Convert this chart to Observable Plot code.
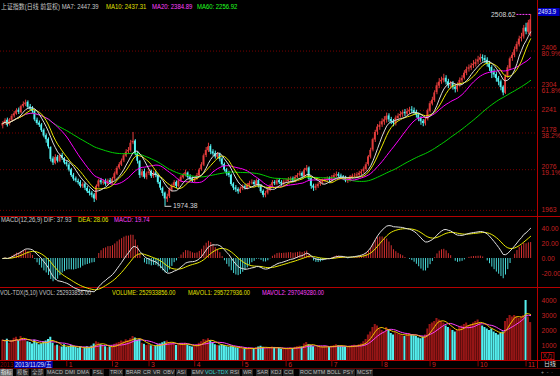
<!DOCTYPE html>
<html><head><meta charset="utf-8">
<script src="https://cdn.jsdelivr.net/npm/d3@7"></script>
<script src="https://cdn.jsdelivr.net/npm/@observablehq/plot@0.6"></script>
<style>
html,body{margin:0;padding:0;background:#000;}
#wrap{position:relative;width:560px;height:376px;overflow:hidden;background:#000;font-family:"Liberation Sans","Noto Sans CJK SC",sans-serif;font-size:6.6px;line-height:1;}
.t{position:absolute;white-space:nowrap;line-height:8px;transform:scaleX(0.9);transform-origin:left center;}
.pn{position:absolute;left:0;}
.hl{position:absolute;left:0;width:560px;height:1px;background:#b40000;}
.vl{position:absolute;width:1px;background:#b40000;}
.tab{position:absolute;top:369px;height:7px;line-height:7px;padding:0 1px;background:#262626;color:#bdbdbd;font-size:5.4px;white-space:nowrap;}
</style></head><body><div id="wrap">
<div class="t" style="left:1px;top:3px;color:#c8c8c8">上证指数(日线 前复权) MA7: 2447.39</div>
<div class="t" style="left:106px;top:3px;color:#e0e000">MA10: 2437.31</div>
<div class="t" style="left:152px;top:3px;color:#ff40ff">MA20: 2384.89</div>
<div class="t" style="left:197px;top:3px;color:#20ff20">MA60: 2256.92</div>
<div class="t" style="left:1px;top:216px;color:#c8c8c8">MACD(12,26,9) DIF: 37.93</div>
<div class="t" style="left:78px;top:216px;color:#e0e000">DEA: 28.06</div>
<div class="t" style="left:114px;top:216px;color:#ff40ff">MACD: 19.74</div>
<div class="t" style="left:0px;top:289px;color:#c8c8c8;transform:scaleX(0.82)">VOL-TDX(5,10) VVOL: 252933856.00</div>
<div class="t" style="left:112px;top:289px;color:#e0e000;transform:scaleX(0.86)">VOLUME: 252933856.00</div>
<div class="t" style="left:188px;top:289px;color:#e0e000;transform:scaleX(0.86)">MAVOL1: 295727936.00</div>
<div class="t" style="left:262px;top:289px;color:#ff40ff;transform:scaleX(0.86)">MAVOL2: 297049280.00</div>
<div class="t" style="left:538px;top:8px;width:24px;height:8px;background:#0000c0;color:#e0e8ff;">2493.9</div>
<div class="t" style="left:0px;top:361px;color:#900000">2013</div>
<div class="t" style="left:14px;top:361px;height:7px;line-height:7px;padding:0 1px;background:#0000b0;color:#d8e0ff">2013/11/29/五</div>
<div class="t" style="left:541px;top:352px;height:6px;line-height:6px;color:#c02020;border:1px solid #b40000;padding:0 1px">X万</div>
<div class="t" style="left:544px;top:360px;line-height:7px;color:#e0e0e0">日线</div>
<div class="t" style="left:541px;top:369px;line-height:7px;color:#a0a0a0;font-size:5.6px">+ &nbsp;- &nbsp;·</div>
<div class="hl" style="top:216px"></div>
<div class="hl" style="top:287px"></div>
<div class="hl" style="top:360px"></div>
<div class="hl" style="top:368px;background:#600000"></div>
<div class="vl" style="left:537px;top:0;height:368px"></div>
</div>
<script>
// ---- data (Shanghai Composite, daily, ~Nov 2013 - Nov 2014) ----
const opens=[2198,2206,2214,2202,2214,2226,2231,2242,2235,2253,2257,2264,2251,2246,2239,2214,2206,2201,2186,2171,2161,2138,2106,2094,2111,2099,2116,2107,2096,2089,2076,2061,2051,2044,2041,2029,2036,2024,2016,2011,2006,1994,2029,2046,2039,2043,2035,2046,2039,2051,2064,2081,2089,2101,2114,2126,2129,2151,2156,2121,2099,2059,2071,2054,2066,2071,2057,2067,2061,2041,2024,2011,1994,2001,2019,2031,2041,2029,2046,2054,2061,2067,2056,2051,2045,2051,2059,2076,2089,2116,2129,2141,2126,2121,2111,2119,2106,2091,2076,2066,2061,2036,2026,2021,2014,2023,2029,2024,2031,2039,2041,2034,2046,2031,2016,2004,2011,2019,2031,2041,2036,2046,2041,2035,2043,2043,2047,2051,2044,2054,2061,2066,2057,2074,2081,2051,2031,2024,2029,2036,2039,2044,2047,2051,2045,2054,2059,2063,2059,2056,2053,2044,2047,2055,2059,2059,2061,2065,2071,2077,2091,2111,2131,2159,2181,2194,2201,2209,2214,2226,2216,2211,2204,2219,2226,2229,2236,2231,2237,2243,2241,2236,2229,2219,2211,2204,2216,2239,2259,2269,2291,2309,2321,2324,2331,2321,2309,2316,2306,2299,2311,2324,2331,2344,2356,2359,2366,2369,2376,2381,2389,2386,2381,2371,2361,2346,2341,2331,2321,2306,2289,2336,2359,2386,2394,2411,2424,2441,2446,2471,2459,2455];
const highs=[2210,2218,2220,2219,2230,2238,2246,2248,2256,2265,2270,2268,2258,2252,2242,2220,2212,2205,2190,2176,2165,2140,2112,2118,2116,2120,2122,2110,2100,2094,2080,2066,2056,2050,2046,2040,2040,2030,2022,2016,2010,2034,2050,2052,2048,2050,2050,2052,2055,2070,2085,2096,2106,2120,2132,2138,2158,2180,2160,2126,2102,2076,2078,2070,2078,2075,2072,2072,2064,2046,2028,2014,2008,2025,2036,2046,2045,2050,2060,2066,2075,2070,2062,2056,2056,2066,2080,2096,2120,2138,2150,2146,2132,2128,2124,2122,2110,2095,2080,2072,2064,2040,2032,2026,2028,2034,2034,2038,2044,2048,2046,2050,2050,2035,2020,2016,2026,2035,2046,2046,2050,2052,2046,2048,2050,2054,2056,2056,2060,2066,2072,2070,2080,2088,2084,2055,2036,2036,2040,2046,2050,2054,2056,2056,2060,2066,2070,2068,2064,2060,2058,2054,2060,2064,2066,2068,2072,2076,2084,2096,2116,2136,2164,2186,2202,2210,2218,2224,2234,2232,2222,2216,2226,2232,2238,2242,2244,2246,2250,2252,2248,2242,2234,2224,2216,2220,2245,2266,2278,2296,2318,2330,2334,2342,2338,2328,2322,2322,2312,2318,2332,2338,2352,2362,2368,2372,2380,2384,2392,2398,2396,2394,2388,2378,2366,2356,2348,2336,2326,2310,2340,2366,2390,2402,2418,2432,2448,2456,2478,2484,2492,2508.62];
const lows=[2190,2200,2195,2198,2210,2220,2228,2230,2232,2248,2252,2245,2240,2232,2210,2200,2194,2180,2165,2150,2134,2098,2088,2090,2095,2096,2102,2090,2084,2070,2055,2044,2040,2034,2025,2024,2018,2010,2003,1998,1985,1990,2025,2034,2033,2030,2031,2035,2036,2046,2060,2076,2085,2096,2110,2120,2125,2146,2115,2092,2052,2054,2050,2048,2060,2052,2052,2054,2035,2018,2002,1974.38,1985,1996,2014,2026,2024,2025,2040,2050,2056,2050,2044,2040,2040,2047,2055,2072,2085,2110,2124,2118,2114,2106,2105,2098,2085,2070,2058,2054,2030,2018,2013,2008,2010,2018,2020,2020,2026,2034,2030,2030,2025,2010,1998,1998,2006,2015,2026,2032,2032,2035,2030,2030,2038,2038,2042,2040,2040,2050,2056,2053,2054,2070,2045,2022,2016,2018,2024,2030,2034,2040,2042,2040,2040,2050,2054,2052,2050,2046,2040,2038,2042,2050,2054,2054,2056,2060,2066,2072,2086,2106,2126,2152,2172,2186,2194,2200,2206,2208,2202,2196,2198,2212,2220,2222,2224,2226,2230,2232,2228,2220,2210,2200,2196,2198,2212,2234,2254,2264,2285,2302,2314,2318,2312,2302,2300,2298,2290,2292,2306,2318,2326,2338,2348,2352,2358,2362,2368,2374,2376,2372,2362,2350,2330,2332,2320,2310,2296,2282,2286,2330,2352,2378,2388,2404,2418,2432,2440,2452,2452,2446];
const closes=[2205,2212,2200,2215,2225,2232,2240,2236,2252,2258,2262,2250,2245,2238,2215,2205,2200,2185,2170,2160,2140,2105,2095,2110,2100,2115,2108,2095,2090,2075,2060,2050,2045,2040,2030,2035,2025,2015,2010,2005,1995,2030,2045,2040,2042,2036,2045,2040,2050,2065,2080,2090,2100,2115,2125,2130,2150,2155,2120,2100,2060,2070,2055,2065,2070,2058,2066,2060,2040,2025,2010,1995,2000,2020,2030,2040,2030,2045,2055,2060,2068,2055,2050,2046,2050,2060,2075,2090,2115,2130,2140,2125,2120,2112,2118,2105,2090,2075,2065,2060,2035,2025,2020,2015,2022,2028,2025,2032,2038,2040,2035,2045,2030,2015,2005,2010,2020,2030,2040,2037,2045,2040,2036,2042,2044,2048,2050,2045,2055,2060,2065,2058,2075,2080,2050,2030,2025,2030,2035,2040,2045,2048,2050,2046,2055,2060,2062,2058,2055,2052,2045,2048,2056,2058,2060,2062,2066,2070,2078,2090,2112,2130,2160,2180,2195,2200,2210,2215,2225,2215,2210,2205,2220,2225,2230,2235,2232,2238,2242,2240,2235,2228,2218,2210,2205,2215,2240,2260,2270,2290,2310,2320,2325,2330,2320,2310,2315,2305,2300,2310,2325,2330,2345,2355,2360,2365,2370,2375,2382,2388,2385,2380,2370,2360,2345,2340,2330,2320,2305,2290,2335,2360,2385,2395,2410,2425,2440,2445,2470,2460,2485,2493.9];
// volume in units of 100,000 (axis "X万")
const volumes=[1350,1280,1420,1150,1300,1480,1550,1320,1600,1450,1380,1250,1200,1100,1350,1180,1050,1120,1250,1300,1400,1550,1150,980,1020,960,900,1050,880,920,1000,950,870,820,900,780,850,920,880,960,1100,1250,1180,1050,980,920,850,900,950,1080,1150,1200,1300,1250,1380,1320,1450,1600,1500,1350,1400,1150,1080,1000,1050,980,920,960,1050,1100,1180,1250,1300,1200,1150,1080,1000,1050,1120,1100,1150,1020,950,900,980,1050,1150,1250,1400,1350,1450,1300,1150,1050,1000,980,1050,1000,920,880,950,900,850,800,820,780,750,800,850,820,780,850,900,950,880,820,800,850,900,870,820,800,760,780,800,820,850,800,880,920,950,900,1100,1200,1050,1000,920,860,880,900,920,950,900,880,960,1000,1050,980,950,920,900,880,950,1000,1020,980,1050,1100,1250,1400,1700,1900,2200,2400,2300,2100,2000,1900,2200,2000,1800,1700,1850,1750,1700,1650,1600,1750,1800,1700,1650,1600,1500,1450,1550,1700,2100,2400,2500,2600,2800,2700,2600,2500,2300,2200,2100,2000,1900,2000,2200,2300,2400,2500,2300,2400,2500,2600,2700,2500,2300,2200,2100,2000,2100,1900,1800,1700,1800,1900,2600,2800,3000,2900,3000,2900,2800,2900,3000,4000,2900,2529];
const monthStarts=[28,48,64,84,105,124,144,166,187,208,229];
const monthLabels=["1","2","3","4","5","6","7","8","9","10","11"];
const fibLevels=[2406.6,2304.5,2241.5,2178.5,2076.4,1963];
const fibLabels=["2406\n80.9%","2304\n61.8%","2241","2178\n38.2%","2076\n19.1%","1963"];
const macdTicks=[40,20,0,-20];
const macdTickLabels=["40.00","20.00","0.00","-20.00"];
const volTicks=[4000,3000,2000,1000];
const tabNames=["指标","模板","全部","MACD","DMI","DMA","FSL","TRIX","BRAR","CR","VR","OBV","ASI","EMV","VOL-TDX","RSI","WR","SAR","KDJ","CCI","ROC","MTM","BOLL","PSY","MCST"];
const tabLeft=[0,16,31,46,64,76,92,109,125,142,152,162,176,191,204,229,242,256,270,283,299,312,326,342,356];

// ---- build rows ----
const bars=closes.map((c,i)=>({i,o:opens[i],h:highs[i],l:lows[i],c,v:volumes[i],up:c>=opens[i]}));
function ema(arr,n){const a=2/(n+1);let e=arr[0];return arr.map((v,k)=>(e=k===0?v:a*v+(1-a)*e));}
const e12=ema(closes,12),e26=ema(closes,26);
const dif=e12.map((v,k)=>v-e26[k]);
const dea=ema(dif,9);
const macdRows=dif.map((d,k)=>({i:k,dif:d,dea:dea[k],m:2*(d-dea[k])}));

const UP="#e23c3c",DN="#54f4f4",AX="#c42020";
const base={width:560,marginLeft:0,marginRight:23,marginTop:0,marginBottom:0,
  x:{domain:[-1,234],axis:null},
  style:{background:"transparent",fontFamily:"Liberation Sans, sans-serif",overflow:"visible"}};
const wrap=document.getElementById("wrap");
function place(svg,top){const d=document.createElement("div");d.className="pn";d.style.top=top+"px";d.appendChild(svg);wrap.appendChild(d);}

const hiBar=bars.reduce((a,b)=>b.h>a.h?b:a);
const loBar=bars.reduce((a,b)=>b.l<a.l?b:a);

const price=Plot.plot({...base,height:204,
  y:{domain:[1946,2514],axis:null},
  marks:[
    Plot.ruleY(fibLevels,{stroke:"#780000",strokeDasharray:"1,2"}),
    Plot.ruleX(bars,{x:"i",y1:"l",y2:"h",stroke:d=>d.up?UP:DN,strokeWidth:1}),
    Plot.rect(bars,{x1:d=>d.i-0.38,x2:d=>d.i+0.38,y1:"o",y2:"c",fill:d=>d.up?UP:DN}),
    Plot.lineY(bars,Plot.windowY({k:60,anchor:"end"},{x:"i",y:"c",stroke:"#00d000",strokeWidth:1})),
    Plot.lineY(bars,Plot.windowY({k:20,anchor:"end"},{x:"i",y:"c",stroke:"#ff00ff",strokeWidth:1})),
    Plot.lineY(bars,Plot.windowY({k:10,anchor:"end"},{x:"i",y:"c",stroke:"#e8e800",strokeWidth:1})),
    Plot.lineY(bars,Plot.windowY({k:7,anchor:"end"},{x:"i",y:"c",stroke:"#dcdcdc",strokeWidth:1})),
    Plot.ruleY([hiBar],{y:"h",x1:d=>d.i-6,x2:d=>d.i,stroke:"#ff40ff",strokeDasharray:"2,1"}),
    Plot.text([hiBar],{x:"i",y:"h",text:d=>d.h.toFixed(2),dx:-15,textAnchor:"end",fill:"#d8d8d8",fontSize:6.8}),
    Plot.ruleY([loBar],{y:"l",x1:"i",x2:d=>d.i+3,stroke:"#d8d8d8"}),
    Plot.text([loBar],{x:"i",y:"l",text:d=>d.l.toFixed(2),dx:8,textAnchor:"start",fill:"#d8d8d8",fontSize:6.8}),
    Plot.text(fibLevels,{x:()=>234,y:d=>d,text:(d,k)=>fibLabels[k],dx:4,textAnchor:"start",fill:AX,fontSize:6.8,lineHeight:0.95})
  ]});
place(price,12);

const macd=Plot.plot({...base,height:70,
  y:{domain:[-38.67,54.67],axis:null},
  marks:[
    Plot.ruleX(macdRows,{x:"i",y1:0,y2:"m",stroke:d=>d.m>=0?"#d43030":"#48d8d8",strokeWidth:1}),
    Plot.lineY(macdRows,{x:"i",y:"dea",stroke:"#e8e800",strokeWidth:1}),
    Plot.lineY(macdRows,{x:"i",y:"dif",stroke:"#e0e0e0",strokeWidth:1}),
    Plot.text(macdTicks,{x:()=>234,y:d=>d,text:(d,k)=>macdTickLabels[k],dx:4,textAnchor:"start",fill:AX,fontSize:6.8})
  ]});
place(macd,217);

const vol=Plot.plot({...base,height:72,
  y:{domain:[0,4800],axis:null},
  marks:[
    Plot.rect(bars,{x1:d=>d.i-0.45,x2:d=>d.i+0.45,y1:0,y2:"v",fill:d=>d.up?"#961616":"#54eeee"}),
    Plot.lineY(bars,Plot.windowY({k:10,anchor:"end"},{x:"i",y:"v",stroke:"#ff40ff",strokeWidth:1})),
    Plot.lineY(bars,Plot.windowY({k:5,anchor:"end"},{x:"i",y:"v",stroke:"#f0c000",strokeWidth:1})),
    Plot.text(volTicks,{x:()=>234,y:d=>d,text:d=>String(d),dx:4,textAnchor:"start",fill:AX,fontSize:6.8})
  ]});
place(vol,288);

const dates=Plot.plot({...base,height:8,
  y:{domain:[0,1],axis:null},
  marks:[
    Plot.ruleX(monthStarts,{x:d=>d,y1:0.2,y2:1,stroke:"#900000"}),
    Plot.text(monthStarts,{x:d=>d,y:()=>0.5,text:(d,k)=>monthLabels[k],dx:2,textAnchor:"start",fill:"#d02020",fontSize:6.8})
  ]});
place(dates,360);

tabNames.forEach((n,k)=>{const s=document.createElement("div");s.className="tab";s.style.left=tabLeft[k]+"px";s.textContent=n;
  if(k===0){s.style.background="#6a6a6a";s.style.color="#f0f0f0";}
  if(n==="VOL-TDX"){s.style.color="#30d0d0";}
  wrap.appendChild(s);});
</script>
</body></html>
